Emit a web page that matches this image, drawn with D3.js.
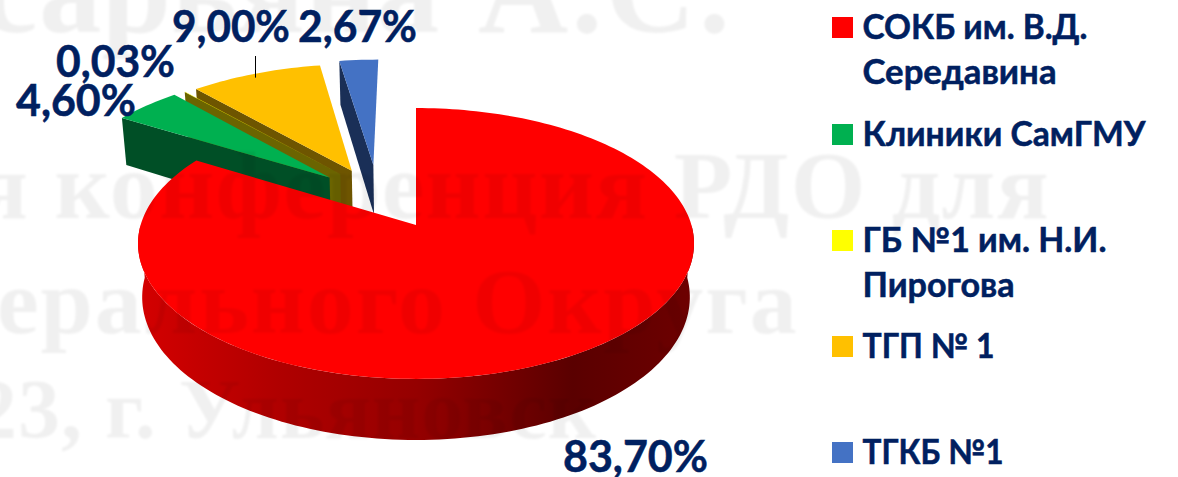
<!DOCTYPE html>
<html lang="ru">
<head>
<meta charset="utf-8">
<script src="https://cdn.jsdelivr.net/npm/d3@7/dist/d3.min.js"></script>
<style>
  html, body { margin: 0; padding: 0; background: #fff; overflow: hidden; }
  svg { display: block; }
  .label, .legend text { font-family: Lato, "Open Sans", sans-serif; font-weight: 700; fill: #002060; stroke: #002060; stroke-width: 0.5; }
  .mark text { font-family: "Liberation Serif", serif; font-weight: 700; }
</style>
</head>
<body>
<svg id="chart" width="1178" height="477"></svg>
<script>
// Share of cases per institution, in percent
const categories = ["СОКБ им. В.Д. Середавина", "Клиники СамГМУ", "ГБ №1 им. Н.И. Пирогова", "ТГП № 1", "ТГКБ №1"];
const values = [83.70, 4.60, 0.03, 9.00, 2.67];
const valueLabels = ["83,70%", "4,60%", "0,03%", "9,00%", "2,67%"];
const legendLines = [["СОКБ им. В.Д.", "Середавина"], ["Клиники СамГМУ"], ["ГБ №1 им. Н.И.", "Пирогова"], ["ТГП № 1"], ["ТГКБ №1"]];
const topColors = ["#ff0000", "#00b050", "#ffff00", "#ffc000", "#4472c4"];
const wallColors = ["#b00000", "#004f26", "#6b6400", "#6e5500", "#1a2f57"];

// Slices pulled away from the pie, in unit-disc coordinates, and their radius
const pullOut = [[0, 0], [-0.33, 0.375], [-0.29, 0.405], [-0.247, 0.432], [-0.165, 0.481]];
const wedgeRadius = [1, 1.018, 1.018, 1.018, 1.018];

// Label anchors and text widths in page pixels
const labelPos = [[563, 472], [16, 116], [56, 77], [172, 42], [298, 42]];
const labelWidths = [145, 120, 119, 118, 119];
const legendRows = [39, 146, 252, 358, 464];
const legendLineGap = 45;
const legendWidths = [[225, 194], [283], [244, 152], [132], [141]];

// Faint conference banner lying across the slide
const bannerLines = [
  { text: "сарьяна", x: -18, y: 32, size: 125, spacing: 0 },
  { text: "А.С.", x: 478, y: 32, size: 125, spacing: 3 },
  { text: "я конференция РДО для", x: -24, y: 218, size: 96, spacing: 1.25 },
  { text: "ерального Округа", x: -3, y: 333, size: 94, spacing: 1.9 },
  { text: "23, г. Ульяновск", x: -25, y: 438, size: 84, spacing: 1 }
];

const svg = d3.select("#chart");
const defs = svg.append("defs");

// Perspective view of the unit disc: far edge shrinks, near edge grows
const view = { ox: 416, oy: 225, a: 275.4, b: 102.2, k: 0.1365, depth: 52.7, taper: 0.985 };
function project(u, v, lower) {
  const w = 1 + view.k * v;
  const a = lower ? view.a * view.taper : view.a;
  return [view.ox + a * u / w, (view.oy - view.b * v + (lower ? view.depth : 0)) / w];
}

const pie = d3.pie().sort(null).value(d => d);
const arcs = pie(values);
const line = d3.line();

// Rim position at a given pie angle (clockwise from the top), shifted by the pull-out
const rim = (angle, i, lower) => project(
  wedgeRadius[i] * Math.sin(angle) + pullOut[i][0],
  wedgeRadius[i] * Math.cos(angle) + pullOut[i][1],
  lower
);
const sweep = (a0, a1, i, lower) =>
  d3.range(0, 1.0001, 1 / Math.max(2, Math.ceil(Math.abs(a1 - a0) * 40)))
    .map(t => rim(a0 + (a1 - a0) * t, i, lower));

const pieLayer = svg.append("g").attr("class", "pie");

// Red outer wall, shaded left to right
const grad = defs.append("linearGradient").attr("id", "wallShade")
  .attr("gradientUnits", "userSpaceOnUse").attr("x1", 138).attr("x2", 695).attr("y1", 0).attr("y2", 0);
[[0, "#d40000"], [0.25, "#b00000"], [0.5, "#950000"], [0.78, "#5a0000"], [1, "#6e0000"]]
  .forEach(([o, c]) => grad.append("stop").attr("offset", o).attr("stop-color", c));

// Wedge faces: cut wall along the leading edge, then the top
function drawWedge(i) {
  const d = arcs[i], off = pullOut[i];
  const apexTop = project(off[0], off[1], false);
  const apexLow = project(off[0], off[1], true);
  pieLayer.append("path")
    .attr("d", line([rim(d.startAngle, i, false), apexTop, apexLow, rim(d.startAngle, i, true)]) + "Z")
    .attr("fill", wallColors[i]);
  pieLayer.append("path")
    .attr("d", line([apexTop, ...sweep(d.startAngle, d.endAngle, i, false)]) + "Z")
    .attr("fill", topColors[i]);
}

// Back to front: blue, orange, yellow, green, then the large red slice
[4, 3, 2, 1].forEach(drawWedge);

const red = arcs[0];
const front = [Math.PI / 2, 3 * Math.PI / 2];
pieLayer.append("path")
  .attr("d", line([...sweep(front[0], front[1], 0, false), ...sweep(front[1], front[0], 0, true)]) + "Z")
  .attr("fill", "url(#wallShade)");
pieLayer.append("path")
  .attr("d", line([project(0, 0, false), ...sweep(red.startAngle, red.endAngle, 0, false)]) + "Z")
  .attr("fill", topColors[0]);

// Banner text washes over the pie but stays under the labels
defs.append("filter").attr("id", "soft").append("feGaussianBlur").attr("stdDeviation", 1.2);
svg.append("g").attr("class", "mark").attr("filter", "url(#soft)")
  .selectAll("text").data(bannerLines).join("text")
  .attr("x", d => d.x).attr("y", d => d.y)
  .attr("font-size", d => d.size).attr("letter-spacing", d => d.spacing)
  .attr("fill", "#000").attr("fill-opacity", 0.06)
  .text(d => d.text);

// Leader line for the 9,00% label
const leaderMid = (arcs[3].startAngle + arcs[3].endAngle) / 2;
const leaderFoot = rim(leaderMid, 3, false);
svg.append("line")
  .attr("x1", 255.5).attr("x2", 255.5)
  .attr("y1", 56).attr("y2", leaderFoot[1] + 4)
  .attr("stroke", "#000").attr("stroke-width", 1);

// Value labels
svg.append("g").selectAll("text").data(valueLabels).join("text")
  .attr("class", "label")
  .attr("x", (d, i) => labelPos[i][0]).attr("y", (d, i) => labelPos[i][1])
  .attr("font-size", 43.5)
  .attr("textLength", (d, i) => labelWidths[i])
  .attr("lengthAdjust", "spacingAndGlyphs")
  .text(d => d);

// Legend
const legend = svg.append("g").attr("class", "legend");
const legendRow = legend.selectAll("g").data(categories).join("g")
  .attr("transform", (d, i) => `translate(832,${legendRows[i]})`);
legendRow.append("rect").attr("y", -22).attr("width", 21).attr("height", 21)
  .attr("fill", (d, i) => topColors[i]).attr("stroke", "none");
legendRow.each(function (d, i) {
  d3.select(this).selectAll("text").data(legendLines[i]).join("text")
    .attr("x", 30.5).attr("y", (t, j) => j * legendLineGap)
    .attr("font-size", 33.8)
    .attr("textLength", (t, j) => legendWidths[i][j])
    .attr("lengthAdjust", "spacingAndGlyphs")
    .text(t => t);
});
</script>
</body>
</html>
